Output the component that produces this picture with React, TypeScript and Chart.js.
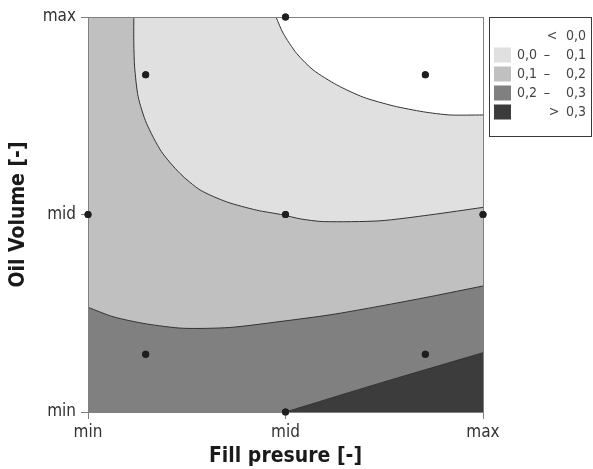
import React, { useEffect, useRef } from 'react';
import { Chart, registerables } from 'chart.js';

Chart.register(...registerables);

// Axis ticks
const tickValues = [0, 0.5, 1];
const tickLabels = ['min', 'mid', 'max'];

// Plot extent (0,1 normalised design space)
const extentX = [0, 1];
const extentY = [1, 1];

// Contour level 0,0 (boundary between "< 0,0" and "0,0 - 0,1")
const c00X = [0.476, 0.494, 0.528, 0.57, 0.63, 0.697, 0.773, 0.849, 0.916, 1.0];
const c00Y = [1.0, 0.959, 0.908, 0.866, 0.828, 0.797, 0.775, 0.76, 0.752, 0.752];

// Contour level 0,1
const c01X = [0.116, 0.116, 0.118, 0.127, 0.148, 0.186, 0.233, 0.284, 0.351, 0.427, 0.494, 0.537, 0.596, 0.739, 0.866, 1.0];
const c01Y = [1.0, 0.934, 0.874, 0.798, 0.731, 0.659, 0.604, 0.562, 0.532, 0.511, 0.499, 0.489, 0.482, 0.484, 0.499, 0.518];

// Contour level 0,2
const c02X = [0, 0.064, 0.148, 0.241, 0.359, 0.486, 0.613, 0.739, 0.866, 1.0];
const c02Y = [0.265, 0.241, 0.223, 0.212, 0.214, 0.229, 0.246, 0.268, 0.292, 0.319];

// Contour level 0,3
const c03X = [0.5, 0.739, 1.0];
const c03Y = [0, 0.073, 0.15];

// Design points
const designX = [0.146, 0.854, 0.5, 0, 0.5, 1, 0.146, 0.854, 0.5];
const designY = [0.854, 0.854, 1, 0.5, 0.5, 0.5, 0.146, 0.146, 0];

// Legend
const legendLow = ['', '0,0', '0,1', '0,2', ''];
const legendSep = ['<', '–', '–', '–', '>'];
const legendHigh = ['0,0', '0,1', '0,2', '0,3', '0,3'];
const legendColors = ['#ffffff', '#e0e0e0', '#c0c0c0', '#808080', '#3c3c3c'];

const FONT = '"DejaVu Sans Condensed", "DejaVu Sans", Verdana, sans-serif';
const FRAME = '#808080';

const pts = (xs: number[], ys: number[]) => xs.map((x, i) => ({ x, y: ys[i] }));

const contour = (xs: number[], ys: number[], color: string, fill: string, order: number, line = true) => ({
  type: 'line' as const,
  data: pts(xs, ys),
  fill,
  backgroundColor: color,
  borderColor: line ? '#333333' : 'rgba(0,0,0,0)',
  borderWidth: line ? 1 : 0,
  pointRadius: 0,
  pointHoverRadius: 0,
  pointHitRadius: 0,
  tension: 0.25,
  order,
});

const legendPlugin = {
  id: 'contourLegend',
  afterDraw(chart: any) {
    const ctx = chart.ctx as CanvasRenderingContext2D;
    const area = chart.chartArea;
    const bx = Math.round(area.right) + 6;
    const by = Math.round(area.top);
    ctx.save();
    ctx.strokeStyle = '#3a3a3a';
    ctx.lineWidth = 1;
    ctx.strokeRect(bx + 0.5, by + 0.5, 102, 119);
    ctx.font = '14px ' + FONT;
    ctx.textBaseline = 'middle';
    for (let i = 0; i < legendHigh.length; i++) {
      const cy = by + 19 + i * 19;
      ctx.fillStyle = legendColors[i];
      ctx.fillRect(bx + 5, cy - 7.5, 17, 15);
      ctx.fillStyle = '#444444';
      ctx.textAlign = 'left';
      if (legendLow[i]) ctx.fillText(legendLow[i], bx + 28, cy);
      ctx.textAlign = 'center';
      const sepX = legendSep[i] === '<' ? bx + 63 : legendSep[i] === '>' ? bx + 65 : bx + 58;
      ctx.fillText(legendSep[i], sepX, cy);
      ctx.textAlign = 'right';
      ctx.fillText(legendHigh[i], bx + 97, cy);
    }
    ctx.restore();
  },
};

const pointsOnTop = {
  id: 'pointsOnTop',
  afterDraw(chart: any) {
    chart.data.datasets.forEach((ds: any, i: number) => {
      if (ds.label === 'Design points') {
        const meta = chart.getDatasetMeta(i);
        meta.data.forEach((p: any) => p.draw(chart.ctx, chart.chartArea));
      }
    });
  },
};

export default function App() {
  const ref = useRef<HTMLCanvasElement | null>(null);

  useEffect(() => {
    if (!ref.current) return;
    Chart.defaults.font.family = FONT;
    const axisCommon = (title: string, isY: boolean) => ({
      type: 'linear' as const,
      min: 0,
      max: 1,
      afterBuildTicks: (scale: any) => {
        scale.ticks = tickValues.map((v) => ({ value: v }));
      },
      afterFit: (scale: any) => {
        if (isY) scale.width = 88;
        else scale.height = 57;
      },
      ticks: {
        callback: (_v: any, i: number) => tickLabels[i],
        font: { size: 17 },
        color: '#333333',
        padding: isY ? 5 : 3,
        maxRotation: 0,
        autoSkip: false,
      },
      grid: {
        z: 1,
        drawOnChartArea: true,
        drawTicks: true,
        tickLength: 7,
        tickColor: FRAME,
        color: (c: any) => (c.tick && c.tick.value === 0.5 ? 'rgba(0,0,0,0)' : FRAME),
        lineWidth: 1,
      },
      border: { display: true, color: FRAME, z: 1 },
      title: {
        display: true,
        text: title,
        color: '#1a1a1a',
        font: { size: 21, weight: 'bold' as const },
        padding: isY ? { top: 6, bottom: 0 } : { top: 0, bottom: 0 },
      },
    });

    const chart = new Chart(ref.current, {
      type: 'line',
      data: {
        datasets: [
          {
            label: 'Design points',
            type: 'line',
            data: pts(designX, designY),
            showLine: false,
            pointRadius: 3.5,
            pointHoverRadius: 3.5,
            pointBackgroundColor: '#1e1e1e',
            pointBorderColor: '#1e1e1e',
            pointBorderWidth: 0,
            clip: false,
            order: 0,
          } as any,
          contour(c03X, c03Y, legendColors[4], 'start', 1) as any,
          contour(c02X, c02Y, legendColors[3], 'start', 2) as any,
          contour(c00X, c00Y, legendColors[0], 'end', 3) as any,
          contour(c01X, c01Y, legendColors[1], 'end', 4) as any,
          contour(extentX, extentY, legendColors[2], 'start', 5, false) as any,
        ],
      },
      options: {
        responsive: false,
        animation: false,
        events: [],
        layout: { padding: { top: 17, right: 110, left: 0, bottom: 0 } },
        plugins: {
          legend: { display: false },
          tooltip: { enabled: false },
        },
        scales: {
          x: axisCommon('Fill presure [-]', false) as any,
          y: axisCommon('Oil Volume [-]', true) as any,
        },
      },
      plugins: [legendPlugin, pointsOnTop],
    });
    return () => chart.destroy();
  }, []);

  return (
    <div style={{ position: 'fixed', left: 0, top: 0, width: 593, height: 469, background: '#ffffff' }}>
      <canvas ref={ref} width={593} height={469} style={{ display: 'block' }} />
    </div>
  );
}
